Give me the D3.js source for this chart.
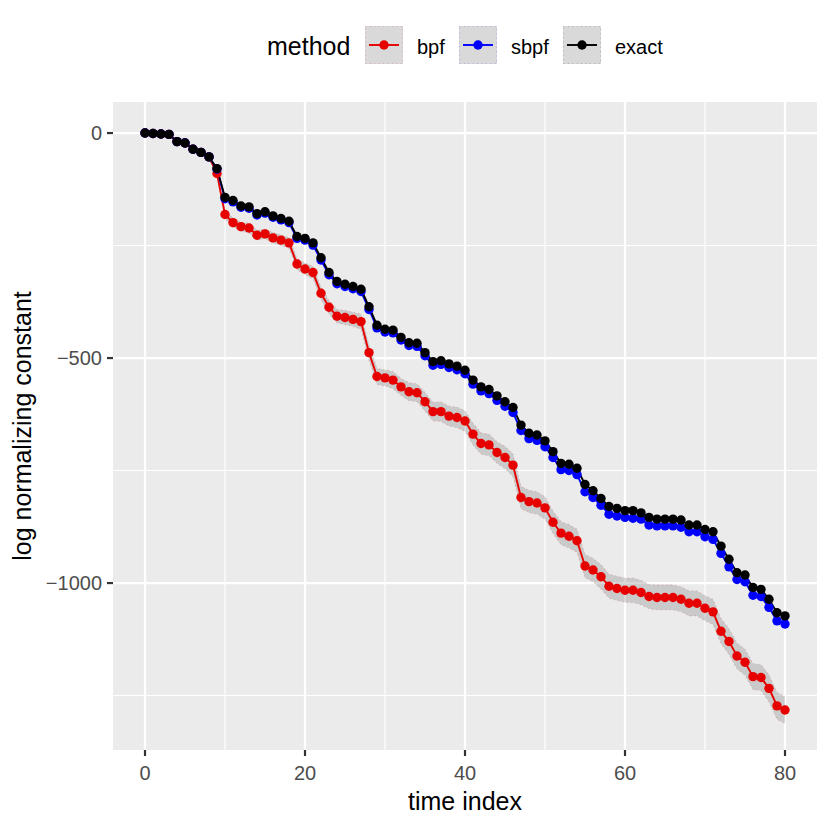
<!DOCTYPE html>
<html>
<head>
<meta charset="utf-8">
<script src="https://cdn.jsdelivr.net/npm/d3@7"></script>
<style>
  body { margin: 0; background: white; }
  text { font-family: "Liberation Sans", Arial, sans-serif; }
</style>
</head>
<body>
<script>
// time index 0..80
var timeIndex = d3.range(0, 81);

var methods = ["bpf", "sbpf", "exact"];
var colors = {bpf: "#e60000", sbpf: "#0000ff", exact: "#000000"};

var bpf = [0,-1,-2,-3,-19,-22,-36,-43,-53,-90,
  -181,-199,-208,-211,-227,-224,-233,-238,-244,-291,
  -302,-310,-356,-387,-407,-410,-414,-419,-488,-541,
  -544,-549,-564,-575,-577,-597,-619,-619,-629,-632,
  -640,-669,-690,-693,-710,-721,-738,-810,-819,-822,
  -833,-865,-889,-896,-906,-962,-971,-986,-1007,-1012,
  -1016,-1016,-1021,-1030,-1032,-1032,-1032,-1036,-1045,-1045,
  -1056,-1064,-1107,-1130,-1162,-1176,-1208,-1210,-1234,-1273,-1282];

var sbpf = [0,-1,-2,-3,-19,-22,-36,-43,-53,-80,
  -146,-153,-165,-167,-182,-178,-187,-193,-199,-234,
  -238,-249,-282,-315,-335,-341,-346,-352,-392,-433,
  -442,-444,-460,-472,-474,-495,-516,-514,-521,-526,
  -535,-558,-573,-579,-594,-607,-621,-661,-679,-683,
  -697,-721,-748,-750,-759,-797,-810,-827,-847,-851,
  -854,-856,-858,-871,-873,-873,-873,-876,-886,-886,
  -897,-903,-934,-964,-992,-997,-1027,-1030,-1054,-1084,-1091];

var exact = [0,-1,-2,-3,-19,-22,-36,-43,-53,-79,
  -143,-150,-162,-164,-179,-175,-184,-190,-196,-230,
  -234,-244,-277,-310,-330,-336,-341,-347,-386,-427,
  -436,-438,-454,-466,-467,-488,-508,-506,-513,-518,
  -527,-549,-564,-570,-584,-597,-610,-649,-667,-671,
  -684,-708,-734,-736,-745,-781,-795,-812,-830,-834,
  -839,-839,-844,-854,-858,-858,-858,-860,-871,-871,
  -881,-886,-918,-947,-977,-982,-1010,-1014,-1036,-1066,-1073];

// ribbon half widths
var bpfSd = [0,1,1,1,2,2,3,3,4,5,
  9,10,10,11,11,11,12,12,12,13,
  13,14,14,15,15,16,16,17,17,18,
  18,19,19,20,20,21,21,22,22,23,
  23,24,24,24,24,25,25,25,25,25,
  25,25,26,26,26,26,26,27,27,27,
  27,27,27,27,28,28,28,28,28,28,
  28,28,28,29,29,29,29,29,30,30,30];

var sbpfSd = [0,0,0,0,0,0,0,0,0,1,
  1,1,1,1,1,1,1,1,1,1,
  2,2,2,2,2,2,2,2,2,2,
  2,2,2,2,2,2,2,2,2,2,
  2,3,3,3,3,3,3,3,3,3,
  3,3,3,3,3,3,3,3,3,3,
  3,3,3,3,3,3,3,3,3,3,
  3,3,3,3,4,4,4,4,4,4,4];

var exactSd = timeIndex.map(function(){ return 0; });

var xTicks = [0, 20, 40, 60, 80];
var xMinor = [10, 30, 50, 70];
var yTicks = [0, -500, -1000];
var yMinor = [-250, -750, -1250];

var series = {bpf: bpf, sbpf: sbpf, exact: exact};
var sds = {bpf: bpfSd, sbpf: sbpfSd, exact: exactSd};

// Global layout
var W = 830, H = 830;
var panel = {left: 113, right: 817, top: 102, bottom: 750};
var pointR = 4.7;
var lineW = 1.9;

var svg = d3.select("body").append("svg")
    .attr("width", W)
    .attr("height", H);

var x = d3.scaleLinear().domain([-4, 84]).range([panel.left, panel.right]);
var y = d3.scaleLinear().domain([-1371, 69]).range([panel.bottom, panel.top]);

var dataObj = methods.map(function(m){
    return {
        method: m,
        color: colors[m],
        values: timeIndex.map(function(t, i){
            return {t: t, v: series[m][i], lo: series[m][i] - sds[m][i], hi: series[m][i] + sds[m][i]};
        })
    };
});

// panel background + grid
svg.append("rect")
    .attr("x", panel.left).attr("y", panel.top)
    .attr("width", panel.right - panel.left)
    .attr("height", panel.bottom - panel.top)
    .attr("fill", "#ebebeb");

var grid = svg.append("g");
grid.selectAll(".ym").data(yMinor).enter().append("line")
    .attr("x1", panel.left).attr("x2", panel.right)
    .attr("y1", function(d){return y(d);}).attr("y2", function(d){return y(d);})
    .attr("stroke", "white").attr("stroke-width", 1.1);
grid.selectAll(".xm").data(xMinor).enter().append("line")
    .attr("y1", panel.top).attr("y2", panel.bottom)
    .attr("x1", function(d){return x(d);}).attr("x2", function(d){return x(d);})
    .attr("stroke", "white").attr("stroke-width", 1.1);
grid.selectAll(".yM").data(yTicks).enter().append("line")
    .attr("x1", panel.left).attr("x2", panel.right)
    .attr("y1", function(d){return y(d);}).attr("y2", function(d){return y(d);})
    .attr("stroke", "white").attr("stroke-width", 2.2);
grid.selectAll(".xM").data(xTicks).enter().append("line")
    .attr("y1", panel.top).attr("y2", panel.bottom)
    .attr("x1", function(d){return x(d);}).attr("x2", function(d){return x(d);})
    .attr("stroke", "white").attr("stroke-width", 2.2);

// ribbons
var area = d3.area()
    .x(function(d){return x(d.t);})
    .y0(function(d){return y(d.lo);})
    .y1(function(d){return y(d.hi);});
var loLine = d3.line().x(function(d){return x(d.t);}).y(function(d){return y(d.lo);});
var hiLine = d3.line().x(function(d){return x(d.t);}).y(function(d){return y(d.hi);});

var ribbons = svg.append("g");
dataObj.forEach(function(s){
    ribbons.append("path").datum(s.values)
        .attr("d", area)
        .attr("fill", "#7f7f7f").attr("fill-opacity", 0.3);
    [loLine, hiLine].forEach(function(gen){
        ribbons.append("path").datum(s.values)
            .attr("d", gen)
            .attr("fill", "none")
            .attr("stroke", s.color).attr("stroke-opacity", 0.2)
            .attr("stroke-width", 1.1)
            .attr("stroke-dasharray", "1.1,3.3");
    });
});

// lines
var line = d3.line().x(function(d){return x(d.t);}).y(function(d){return y(d.v);});
svg.append("g").selectAll("path").data(dataObj).enter().append("path")
    .attr("d", function(d){return line(d.values);})
    .attr("fill", "none")
    .attr("stroke", function(d){return d.color;})
    .attr("stroke-width", lineW);

// points
dataObj.forEach(function(s){
    svg.append("g").selectAll("circle").data(s.values).enter().append("circle")
        .attr("cx", function(d){return x(d.t);})
        .attr("cy", function(d){return y(d.v);})
        .attr("r", pointR)
        .attr("fill", s.color);
});

// axes
var axisG = svg.append("g");
axisG.selectAll(".xt").data(xTicks).enter().append("line")
    .attr("x1", function(d){return x(d);}).attr("x2", function(d){return x(d);})
    .attr("y1", panel.bottom).attr("y2", panel.bottom + 6)
    .attr("stroke", "#333333").attr("stroke-width", 2.2);
axisG.selectAll(".xl").data(xTicks).enter().append("text")
    .attr("x", function(d){return x(d);})
    .attr("y", 780)
    .attr("text-anchor", "middle")
    .attr("font-size", 20)
    .attr("fill", "#4d4d4d")
    .text(function(d){return d;});
axisG.selectAll(".yt").data(yTicks).enter().append("line")
    .attr("y1", function(d){return y(d);}).attr("y2", function(d){return y(d);})
    .attr("x1", panel.left - 6).attr("x2", panel.left)
    .attr("stroke", "#333333").attr("stroke-width", 2.2);
axisG.selectAll(".yl").data(yTicks).enter().append("text")
    .attr("x", panel.left - 11)
    .attr("y", function(d){return y(d) + 7.2;})
    .attr("text-anchor", "end")
    .attr("font-size", 20)
    .attr("fill", "#4d4d4d")
    .text(function(d){return d < 0 ? "\u2212" + Math.abs(d) : d;});

svg.append("text")
    .attr("x", (panel.left + panel.right) / 2)
    .attr("y", 810)
    .attr("text-anchor", "middle")
    .attr("font-size", 25)
    .text("time index");

svg.append("text")
    .attr("transform", "translate(31," + ((panel.top + panel.bottom) / 2) + ") rotate(-90)")
    .attr("text-anchor", "middle")
    .attr("font-size", 25)
    .text("log normalizing constant");

// legend
var legend = svg.append("g");
legend.append("text")
    .attr("x", 267).attr("y", 55)
    .attr("font-size", 25)
    .text("method");

var keyX = [365, 459, 563];
var keySize = 38, keyTop = 26;
dataObj.forEach(function(s, i){
    var g = legend.append("g").attr("transform", "translate(" + keyX[i] + "," + keyTop + ")");
    g.append("rect")
        .attr("width", keySize).attr("height", keySize)
        .attr("fill", "#d9d9d9");
    g.append("rect")
        .attr("x", 0.5).attr("y", 0.5)
        .attr("width", keySize - 1).attr("height", keySize - 1)
        .attr("fill", "none")
        .attr("stroke", s.color).attr("stroke-opacity", 0.2)
        .attr("stroke-width", 1.1)
        .attr("stroke-dasharray", "1.1,3.3");
    g.append("line")
        .attr("x1", 4).attr("x2", keySize - 4)
        .attr("y1", keySize / 2).attr("y2", keySize / 2)
        .attr("stroke", s.color).attr("stroke-width", lineW);
    g.append("circle")
        .attr("cx", keySize / 2).attr("cy", keySize / 2)
        .attr("r", pointR).attr("fill", s.color);
    g.append("text")
        .attr("x", keySize + 14).attr("y", 28)
        .attr("font-size", 20)
        .text(s.method);
});
</script>
</body>
</html>
